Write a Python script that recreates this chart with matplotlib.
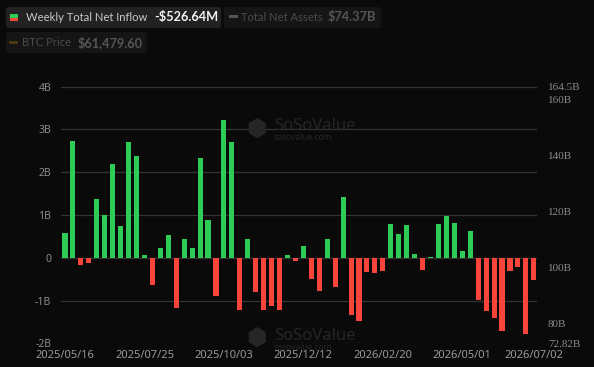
import matplotlib
matplotlib.use('Agg')
import matplotlib.pyplot as plt
from matplotlib.patches import FancyBboxPatch, Rectangle

# 每周净流入 (单位: B)
net_inflow = [0.59, 2.73, -0.16, -0.12, 1.375, 1.01, 2.20, 0.75, 2.71, 2.375,
              0.06, -0.64, 0.24, 0.54, -1.17, 0.43, 0.23, 2.34, 0.875, -0.90,
              3.23, 2.70, -1.23, 0.44, -0.80, -1.22, -1.12, -1.22, 0.06, -0.08,
              0.28, -0.50, -0.78, 0.45, -0.68, 1.41, -1.33, -1.48, -0.33, -0.36,
              -0.31, 0.78, 0.56, 0.76, 0.09, -0.28, 0.02, 0.78, 0.98, 0.82,
              0.15, 0.62, -0.99, -1.24, -1.41, -1.71, -0.30, -0.22, -1.78, -0.52]
tick_pos = [0, 10, 20, 30, 40, 50, 59]
tick_labels = ['2025/05/16', '2025/07/25', '2025/10/03', '2025/12/12',
               '2026/02/20', '2026/05/01', '2026/07/02']
left_ticks = [-2, -1, 0, 1, 2, 3, 4]
left_labels = ['-2B', '-1B', '0', '1B', '2B', '3B', '4B']
right_ticks = [72.82, 80, 100, 120, 140, 160, 164.5]
right_labels = ['72.82B', '80B', '100B', '120B', '140B', '160B', '164.5B']

bg = '#0a0a0a'
green = '#2ecb57'
red = '#f8453b'
W, H = 594, 367

fig = plt.figure(figsize=(W / 100, H / 100), dpi=100, facecolor=bg)
ax = fig.add_axes([61 / W, 1 - 343.3 / H, (537 - 61) / W, (343.3 - 86.7) / H])
ax.set_facecolor(bg)

x = list(range(len(net_inflow)))
colors = [green if v >= 0 else red for v in net_inflow]
ax.bar(x, net_inflow, width=0.64, color=colors, zorder=3)

ax.set_xlim(-0.5, 59.4)
ax.set_ylim(-2, 4)
ax.set_yticks(left_ticks)
ax.set_yticklabels(left_labels)
ax.set_xticks(tick_pos)
ax.set_xticklabels(tick_labels)
for t in left_ticks:
    ax.axhline(t, color='#333333', lw=0.9, zorder=1)
for s in ax.spines.values():
    s.set_visible(False)
ax.tick_params(axis='y', length=0, pad=7, labelsize=7.5, labelcolor='#8a8a8a')
ax.tick_params(axis='x', length=0, pad=4.5, labelsize=8, labelcolor='#9a9a9a')
for lab in ax.get_xticklabels() + ax.get_yticklabels():
    lab.set_family('Noto Sans')

ax2 = ax.twinx()
ax2.set_ylim(72.82, 164.5)
ax2.set_yticks(right_ticks)
ax2.set_yticklabels(right_labels)
for s in ax2.spines.values():
    s.set_visible(False)
ax2.tick_params(axis='y', length=0, pad=8, labelsize=8, labelcolor='#8a8a8a')
for lab in ax2.get_yticklabels():
    lab.set_family('Liberation Serif')

# 水印
for ly, sy in [(126.5, 137.5), (336, 347)]:
    fig.text(257 / W, 1 - (ly + 3) / H, '\u2b22', color='#262626', fontsize=17,
             ha='center', va='center', family='DejaVu Sans', zorder=0)
    fig.text(274 / W, 1 - ly / H, 'SoSoValue', color='#262626', fontsize=12,
             fontweight='bold', ha='left', va='center', family='Noto Sans')
    fig.text(274 / W, 1 - sy / H, 'sosovalue.com', color='#262626', fontsize=6,
             ha='left', va='center', family='Noto Sans')

# 图例框
def box(x0, y0, x1, y1, fc):
    p = FancyBboxPatch((x0 / W, 1 - y1 / H), (x1 - x0) / W, (y1 - y0) / H,
                       boxstyle='round,pad=0,rounding_size=0.006',
                       transform=fig.transFigure, fc=fc, ec='none')
    fig.patches.append(p)

box(6, 7, 221, 28, '#222222')
box(224, 7, 381, 28, '#151515')
box(6, 32, 147, 53, '#151515')

fig.patches.append(Rectangle((10 / W, 1 - 17.5 / H), 8 / W, 3.5 / H,
                             transform=fig.transFigure, fc=green, ec='none'))
fig.patches.append(Rectangle((10 / W, 1 - 21 / H), 8 / W, 3.5 / H,
                             transform=fig.transFigure, fc=red, ec='none'))
fig.patches.append(Rectangle((229 / W, 1 - 18 / H), 8.5 / W, 2.5 / H,
                             transform=fig.transFigure, fc='#555555', ec='none'))
fig.patches.append(Rectangle((9 / W, 1 - 43.5 / H), 9 / W, 2.5 / H,
                             transform=fig.transFigure, fc='#4a3a12', ec='none'))

fig.text(26 / W, 1 - 17.5 / H, 'Weekly Total Net Inflow', color='#c8c8c8',
         fontsize=8.1, family='Lato', va='center')
fig.text(218 / W, 1 - 17.5 / H, '-$526.64M', color='#f2f2f2', fontsize=9.2,
         fontweight='bold', family='Lato', va='center', ha='right')
fig.text(241 / W, 1 - 17.5 / H, 'Total Net Assets', color='#4a4a4a',
         fontsize=8.1, family='Lato', va='center')
fig.text(376 / W, 1 - 17.5 / H, '$74.37B', color='#555555', fontsize=9.2,
         fontweight='bold', family='Lato', va='center', ha='right')
fig.text(22.5 / W, 1 - 42.5 / H, 'BTC Price', color='#4a4a4a',
         fontsize=8.1, family='Lato', va='center')
fig.text(143 / W, 1 - 42.5 / H, '$61,479.60', color='#555555', fontsize=9.2,
         fontweight='bold', family='Lato', va='center', ha='right')

fig.savefig('out.png', dpi=100, facecolor=bg)
